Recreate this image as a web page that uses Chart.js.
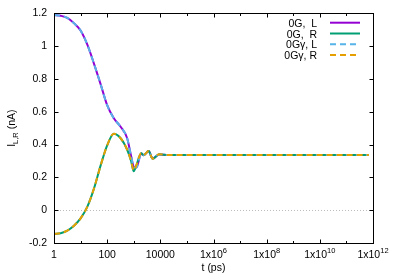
<!DOCTYPE html>
<html lang="en">

<head>
    <meta charset="UTF-8">
    <title>I_L,R vs t</title>
    <script src="https://cdn.jsdelivr.net/npm/chart.js"></script>
    <style>
        html, body { margin: 0; padding: 0; background: #fff; }
    </style>
</head>

<body>
<canvas id="graphCanvas" width="399" height="279"></canvas>

<script>
    // time points (ps)
    const tValues = [1, 1.78, 3.16, 5.62, 10, 17.8, 31.6, 56.2, 100, 178, 316, 562, 794,
        1000, 1259, 1905, 2344, 3631, 5129, 9120, 20000, 1e5, 1e6, 1e8, 1e10, 7e11];

    // currents (nA)
    const currentL = [1.19, 1.185, 1.172, 1.14, 1.095, 1.01, 0.895, 0.77, 0.64, 0.56, 0.51, 0.44, 0.33,
        0.265, 0.26, 0.345, 0.335, 0.36, 0.315, 0.34, 0.336, 0.336, 0.336, 0.336, 0.336, 0.336];
    const currentR = [-0.145, -0.14, -0.125, -0.095, -0.05, 0.02, 0.13, 0.27, 0.395, 0.466, 0.44, 0.37, 0.3,
        0.237, 0.275, 0.347, 0.335, 0.36, 0.314, 0.341, 0.336, 0.336, 0.336, 0.336, 0.336, 0.336];
    const currentLg = [1.19, 1.185, 1.172, 1.14, 1.095, 1.01, 0.895, 0.77, 0.64, 0.56, 0.51, 0.44, 0.33,
        0.265, 0.26, 0.345, 0.335, 0.36, 0.315, 0.34, 0.336, 0.336, 0.336, 0.336, 0.336, 0.336];
    const currentRg = [-0.145, -0.14, -0.125, -0.095, -0.05, 0.02, 0.13, 0.27, 0.395, 0.466, 0.44, 0.37, 0.3,
        0.242, 0.275, 0.347, 0.335, 0.36, 0.314, 0.341, 0.336, 0.336, 0.336, 0.336, 0.336, 0.336];

    const seriesNames = ['0G,  L', '0G,  R', '0G\u03b3, L', '0G\u03b3, R'];

    // axis ticks
    const xMajorTicks = [1, 100, 1e4, 1e6, 1e8, 1e10, 1e12];
    const xTickLabels = ['1', '100', '10000', '1x10^6', '1x10^8', '1x10^10', '1x10^12'];
    const xMinorTicks = [10, 1000, 1e5, 1e7, 1e9, 1e11];
    const yTicks = [-0.2, 0, 0.2, 0.4, 0.6, 0.8, 1, 1.2];
    const yTickLabels = ['-0.2', '0', '0.2', '0.4', '0.6', '0.8', '1', '1.2'];

    const FONT = '"Liberation Sans", Arial, sans-serif';
    const colors = ['#9400d3', '#009e73', '#56b4e9', '#e69f00'];
    const dashes = [[], [], [6, 4], [6, 4]];

    function pairs(ys) {
        return tValues.map((t, i) => ({ x: t, y: ys[i] }));
    }

    // text with a ^superscript part, centred on cx
    function drawSupText(ctx, text, cx, baseY) {
        const parts = text.split('^');
        ctx.font = '10.5px ' + FONT;
        const wb = ctx.measureText(parts[0]).width;
        let ws = 0;
        if (parts[1]) {
            ctx.font = '7.5px ' + FONT;
            ws = ctx.measureText(parts[1]).width;
        }
        const x0 = cx - (wb + ws) / 2;
        ctx.textAlign = 'left';
        ctx.font = '10.5px ' + FONT;
        ctx.fillText(parts[0], x0, baseY);
        if (parts[1]) {
            ctx.font = '7.5px ' + FONT;
            ctx.fillText(parts[1], x0 + wb, baseY - 5);
        }
    }

    const gnuplotFrame = {
        id: 'gnuplotFrame',
        beforeDatasetsDraw(chart) {
            const { ctx, chartArea: a, scales: { y } } = chart;
            ctx.save();
            ctx.strokeStyle = '#a0a0a0';
            ctx.lineWidth = 0.7;
            ctx.setLineDash([1, 2]);
            const y0 = Math.round(y.getPixelForValue(0)) + 0.5;
            ctx.beginPath();
            ctx.moveTo(a.left, y0);
            ctx.lineTo(a.right, y0);
            ctx.stroke();
            ctx.restore();
        },
        afterDatasetsDraw(chart) {
            const { ctx, chartArea: a, scales: { x, y } } = chart;
            ctx.save();
            ctx.strokeStyle = '#000';
            ctx.lineWidth = 1;
            const L = Math.round(a.left) + 0.5, R = Math.round(a.right) + 0.5;
            const T = Math.round(a.top) + 0.5, B = Math.round(a.bottom) + 0.5;
            ctx.strokeRect(L, T, R - L, B - T);

            ctx.beginPath();
            xMajorTicks.concat(xMinorTicks).forEach((v, i) => {
                const len = i < xMajorTicks.length ? 4 : 2.5;
                const px = Math.round(x.getPixelForValue(v)) + 0.5;
                ctx.moveTo(px, B); ctx.lineTo(px, B - len);
                ctx.moveTo(px, T); ctx.lineTo(px, T + len);
            });
            yTicks.forEach(v => {
                const py = Math.round(y.getPixelForValue(v)) + 0.5;
                ctx.moveTo(L, py); ctx.lineTo(L + 4, py);
                ctx.moveTo(R, py); ctx.lineTo(R - 4, py);
            });
            ctx.stroke();

            // x tick labels
            ctx.fillStyle = '#000';
            ctx.textBaseline = 'alphabetic';
            xMajorTicks.forEach((v, i) => {
                drawSupText(ctx, xTickLabels[i], x.getPixelForValue(v), a.bottom + 15);
            });

            // axis titles
            ctx.font = '10.5px ' + FONT;
            ctx.textAlign = 'center';
            ctx.fillText('t (ps)', (a.left + a.right) / 2, 271);

            ctx.save();
            ctx.translate(15, (a.top + a.bottom) / 2);
            ctx.rotate(-Math.PI / 2);
            ctx.font = '10.5px ' + FONT;
            const w1 = ctx.measureText('I').width;
            const w3 = ctx.measureText(' (nA)').width;
            ctx.font = '7.5px ' + FONT;
            const w2 = ctx.measureText('L,R').width;
            let sx = -(w1 + w2 + w3) / 2;
            ctx.textAlign = 'left';
            ctx.font = '10.5px ' + FONT;
            ctx.fillText('I', sx, 0);
            ctx.font = '7.5px ' + FONT;
            ctx.fillText('L,R', sx + w1, 2.5);
            ctx.font = '10.5px ' + FONT;
            ctx.fillText(' (nA)', sx + w1 + w2, 0);
            ctx.restore();

            // legend
            ctx.font = '10.5px ' + FONT;
            ctx.textAlign = 'right';
            seriesNames.forEach((name, i) => {
                const ry = 22.7 + i * 10.8;
                ctx.fillStyle = '#000';
                ctx.fillText(name, 317, ry + 4);
                ctx.strokeStyle = colors[i];
                ctx.lineWidth = 2;
                ctx.setLineDash(dashes[i]);
                ctx.beginPath();
                ctx.moveTo(330, ry);
                ctx.lineTo(360, ry);
                ctx.stroke();
            });
            ctx.restore();
        }
    };

    const allSeries = [currentL, currentR, currentLg, currentRg];

    new Chart(document.getElementById('graphCanvas').getContext('2d'), {
        type: 'line',
        data: {
            datasets: allSeries.map((ys, i) => ({
                label: seriesNames[i],
                data: pairs(ys),
                borderColor: colors[i],
                borderWidth: 2,
                borderDash: dashes[i],
                pointRadius: 0,
                fill: false,
                cubicInterpolationMode: 'monotone',
                order: 4 - i
            }))
        },
        options: {
            responsive: false,
            animation: false,
            devicePixelRatio: 1,
            layout: { padding: { top: 13, right: 26, left: 0, bottom: 0 } },
            plugins: {
                legend: { display: false },
                tooltip: { enabled: false }
            },
            scales: {
                x: {
                    type: 'logarithmic',
                    min: 1,
                    max: 1e12,
                    grid: { display: false },
                    border: { display: false },
                    ticks: { display: false },
                    afterFit(scale) { scale.height = 36; }
                },
                y: {
                    min: -0.2,
                    max: 1.2,
                    grid: { display: false, drawTicks: false },
                    border: { display: false },
                    afterBuildTicks(scale) {
                        scale.ticks = yTicks.map(v => ({ value: v }));
                    },
                    ticks: {
                        padding: 7,
                        color: '#000',
                        font: { family: FONT, size: 10.5 },
                        callback: (v) => {
                            const i = yTicks.findIndex(t => Math.abs(t - v) < 1e-9);
                            return i >= 0 ? yTickLabels[i] : '';
                        }
                    },
                    afterFit(scale) { scale.width = 54; }
                }
            }
        },
        plugins: [gnuplotFrame]
    });
</script>
</body>

</html>
